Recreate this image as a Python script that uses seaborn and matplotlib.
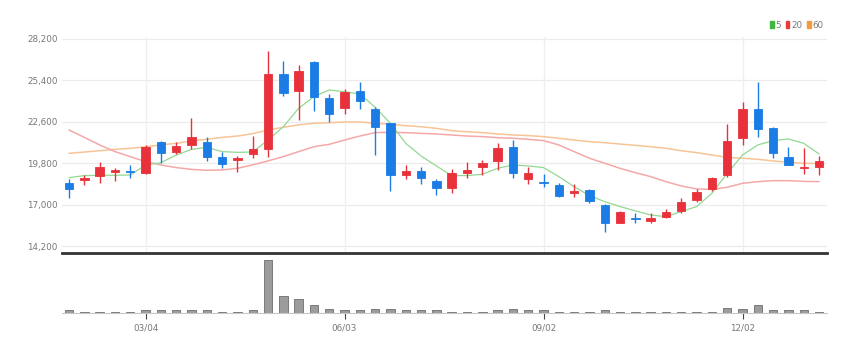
import matplotlib
matplotlib.use('Agg')
import matplotlib.pyplot as plt
from matplotlib.patches import Patch
import seaborn as sns
import numpy as np

#------------------------------------------
# weekly candles (2024-01-29 .. 2025-01-06)
dates = ['01/29','02/05','02/12','02/19','02/26','03/04','03/11','03/18','03/25','04/01',
         '04/08','04/15','04/22','04/29','05/06','05/13','05/20','05/27','06/03','06/10',
         '06/17','06/24','07/01','07/08','07/15','07/22','07/29','08/05','08/12','08/19',
         '08/26','09/02','09/09','09/16','09/23','09/30','10/07','10/14','10/21','10/28',
         '11/04','11/11','11/18','11/25','12/02','12/09','12/16','12/23','12/30','01/06']

opens  = [18440,18690,18930,19230,19270,19110,21210,20580,21030,21210,
          20240,19990,20420,20760,25790,24690,26650,24220,23500,24670,
          23480,22490,19000,19250,18620,18100,19160,19560,19950,20870,
          18750,18530,18350,17770,17990,16980,15790,16120,15880,16150,
          16570,17320,18040,18980,21500,23430,22200,20240,19470,19560]
closes = [18040,18820,19560,19360,19200,20910,20460,20980,21590,20240,
          19740,20150,20760,25790,24510,26040,24290,23120,24580,24020,
          22220,19000,19250,18800,18120,19160,19320,19810,20800,19110,
          19110,18440,17590,17900,17270,15740,16530,16030,16080,16480,
          17180,17830,18800,21320,23430,22080,20460,19650,19560,19970]
highs  = [18710,18980,19900,19450,19680,21030,21320,21250,22830,21540,
          20550,20260,21630,27390,26720,26420,26720,24440,24830,25250,
          23610,22490,19700,19560,18750,19380,19900,20010,21180,21360,
          19560,19070,18440,18370,18060,17050,16570,16420,16420,16710,
          17430,18040,18890,22420,23950,25250,22260,20910,20800,20280]
lows   = [17430,18300,18480,18620,18780,19070,19830,20420,20760,19970,
          19450,19230,20150,20240,24360,22710,23320,22600,23120,23430,
          20330,17940,18750,18390,17650,17760,18780,19000,19340,18780,
          18370,18170,17500,17540,17090,15180,15790,15790,15740,16080,
          16420,17160,17940,18890,21030,21590,20130,19650,19070,19000]

ma5  = [18820,18960,18980,18980,19000,19680,19830,20350,20730,20870,
        20580,20530,20550,21360,22260,23500,24290,24740,24620,24470,
        23570,22490,21140,20280,19610,18960,18960,19050,19450,19680,
        19610,19500,18890,18210,17610,17200,16870,16580,16300,16190,
        16530,16870,17770,19110,20350,21030,21320,21430,21140,20420]
ma20 = [22040,21540,21030,20580,20240,19900,19680,19500,19380,19320,
        19340,19450,19680,19950,20240,20580,20910,21070,21360,21630,
        21860,21880,21860,21810,21770,21700,21630,21590,21520,21480,
        21410,21320,21030,20580,20130,19790,19450,19160,18890,18550,
        18260,18060,18030,18170,18440,18550,18620,18620,18570,18550]
ma60 = [20460,20550,20640,20730,20800,20910,21030,21140,21300,21410,
        21540,21630,21790,22040,22220,22380,22490,22530,22580,22580,
        22490,22420,22330,22260,22150,21990,21920,21860,21770,21700,
        21660,21590,21480,21360,21250,21180,21090,21000,20910,20800,
        20640,20510,20350,20190,20130,20060,19950,19860,19790,19770]

volume = [70,30,30,30,30,70,70,70,90,70,
          30,30,70,1570,500,410,240,120,70,70,
          120,120,70,70,70,30,30,30,70,120,
          70,70,30,30,30,70,30,30,30,30,
          30,30,30,150,120,220,70,70,70,30]

price_ticks = [14200, 17000, 19800, 22600, 25400, 28200]
tick_labels = ['03/04', '06/03', '09/02', '12/02']
ma_labels = ['5', '20', '60']

######################################################
c_up, c_dn = '#e8313a', '#1a7ce4'
c_ma = ['#3cb93c', '#e83a3a', '#f59a3c']
c_line = ['#92d892', '#f5a8a8', '#f7c497']

sns.set_style('white')
plt.rcParams['font.family'] = ['DejaVu Sans']

idx = np.arange(len(dates))
o, c = np.array(opens), np.array(closes)
col = np.where(c >= o, c_up, c_dn)

fig = plt.figure(figsize=(8.64, 3.51), dpi=100)
ax = fig.add_axes([62/864, 1-253/351, 765/864, 216/351])
axv = fig.add_axes([62/864, 1-312.5/351, 765/864, 59.5/351])

#price panel
for v in price_ticks:
    ax.axhline(v, color='#ececec', lw=0.9, zorder=0)
for lab in tick_labels:
    ax.axvline(dates.index(lab), color='#efefef', lw=0.9, zorder=0)

for ma, lc, w in zip([ma60, ma20, ma5], [c_line[2], c_line[1], c_line[0]], [1.1, 1.1, 0.9]):
    sns.lineplot(x=idx, y=ma, color=lc, lw=w, ax=ax, zorder=2)

ax.vlines(idx, lows, highs, colors=col, lw=1.0, zorder=3)
ax.bar(idx, np.maximum(np.abs(c-o), 60), bottom=np.minimum(o, c), width=0.55,
       color=col, edgecolor=col, lw=0.6, zorder=4)

ax.set_xlim(-0.46, 49.52)
ax.set_ylim(13735, 28315)
ax.set_yticks(price_ticks)
ax.set_yticklabels([f'{v:,}' for v in price_ticks], fontsize=6.3, color='#777777')
ax.set_xticks([])
ax.tick_params(axis='y', length=0, pad=3)
ax.set_xlabel('')
ax.set_ylabel('')
for s in ax.spines.values():
    s.set_visible(False)

#legend
handles = [Patch(facecolor=mc, edgecolor=mc) for mc in c_ma]
fig.legend(handles, ma_labels, loc='upper right', bbox_to_anchor=(827/864, 1-17/351),
           ncol=3, frameon=False, fontsize=6.3, handlelength=0.45, handleheight=0.9,
           handletextpad=0.2, columnspacing=0.5, labelcolor='#777777', borderaxespad=0)

#volume panel
sns.barplot(x=idx, y=volume, native_scale=True, width=0.55, color='#9c9c9c',
            edgecolor='#7a7a7a', linewidth=0.7, ax=axv, saturation=1)
axv.set_xlim(-0.46, 49.52)
axv.set_ylim(0, 1786)
axv.set_yticks([])
axv.set_xticks([dates.index(l) for l in tick_labels])
axv.set_xticklabels(tick_labels, fontsize=6.3, color='#777777')
axv.tick_params(axis='x', length=4, width=0.8, color='#444444', pad=4, direction='out', bottom=True)
axv.set_xlabel('')
axv.set_ylabel('')
for k in ['left', 'right']:
    axv.spines[k].set_visible(False)
axv.spines['top'].set_color('#333333')
axv.spines['top'].set_linewidth(2)
axv.spines['bottom'].set_color('#c8c8c8')
axv.spines['bottom'].set_linewidth(0.8)

plt.savefig('out.png', dpi=100)
plt.close()
